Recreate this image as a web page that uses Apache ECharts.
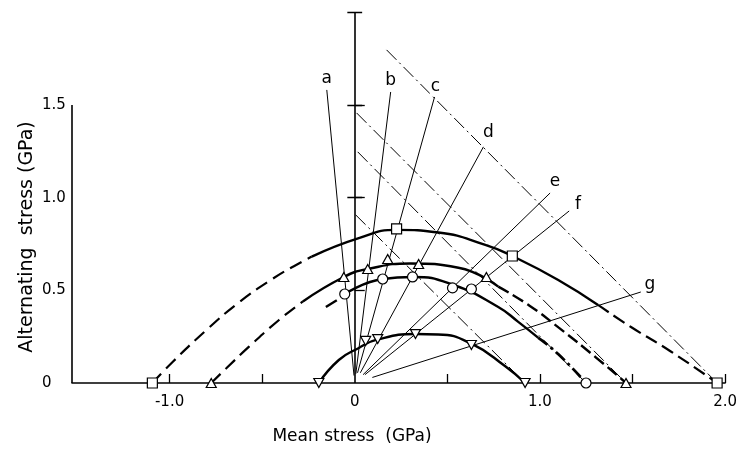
<!DOCTYPE html>
<html><head><meta charset="utf-8">
<script src="https://cdn.jsdelivr.net/npm/echarts@6/dist/echarts.min.js"></script>
<style>html,body{margin:0;padding:0;background:#fff}#c{width:740px;height:450px}</style>
</head><body><div id="c"></div>
<script>
// ---- axis ticks / labels ----
const xTicks = [-1, -0.5, 0.5, 1, 1.5, 2];
const xTickLabels = [-1, 0, 1, 2];
const yTicks = [0.5, 1, 1.5];
const yTickLabels = [0, 0.5, 1, 1.5];
const centreTicks = [1, 1.5, 2];

// ---- curve 1 (squares) ----
const c1Left = [[-1.093,0],[-0.985,0.112],[-0.802,0.285],[-0.625,0.435],[-0.447,0.56],[-0.302,0.645],[-0.232,0.682]];
const c1Mid = [[-0.232,0.682],[0.022,0.782],[0.226,0.826],[0.452,0.812],[0.705,0.745],[0.851,0.685],[1.099,0.556],[1.314,0.421]];
const c1Right = [[1.314,0.421],[1.492,0.302],[1.707,0.17],[1.957,0]];
const squares = [[-1.093,0],[0.226,0.831],[0.851,0.685],[1.957,0]];

// ---- curve 2 (triangles) ----
const c2Left = [[-0.775,0],[-0.695,0.078],[-0.571,0.196],[-0.409,0.34],[-0.28,0.44]];
const c2Mid = [[-0.28,0.44],[-0.059,0.572],[0.07,0.615],[0.3,0.645],[0.56,0.622],[0.775,0.52]];
const c2Right = [[0.775,0.52],[0.94,0.42],[1.1,0.3],[1.3,0.14],[1.465,0]];
const triangles = [[-0.775,0],[-0.059,0.572],[0.07,0.615],[0.178,0.669],[0.345,0.642],[0.711,0.572],[1.465,0]];

// ---- curve 3 (circles) ----
const c3Stub = [[-0.156,0.41],[-0.097,0.446]];
const c3Mid = [[-0.054,0.48],[0.151,0.561],[0.312,0.572],[0.53,0.53],[0.775,0.41],[0.883,0.33],[0.99,0.245]];
const c3Right = [[0.99,0.245],[1.1,0.155],[1.249,0]];
const circles = [[-0.054,0.48],[0.151,0.561],[0.312,0.572],[0.528,0.513],[0.63,0.507],[1.249,0]];

// ---- curve 4 (inverted triangles) ----
const c4 = [[-0.194,0],[-0.086,0.124],[0.022,0.189],[0.124,0.235],[0.328,0.264],[0.45,0.262],[0.63,0.212],[0.813,0.09],[0.92,0]];
const downTriangles = [[-0.194,0],[0.059,0.227],[0.124,0.237],[0.328,0.264],[0.63,0.205],[0.92,0]];

// ---- Goodman lines (dash-dot) ----
const goodStart = [[0.172,1.797],[0.01,1.457],[0.016,1.247],[0.005,0.907]];
const goodEnd = [[1.957,0],[1.465,0],[1.249,0],[0.92,0]];

// ---- leader lines and labels ----
const leaderNames = ['a','b','c','d','e','f','g'];
const leaderInner = [[-0.004,0.04],[0.006,0.05],[0.015,0.055],[0.03,0.055],[0.045,0.045],[0.055,0.045],[0.095,0.03]];
const leaderOuter = [[-0.151,1.581],[0.194,1.57],[0.431,1.543],[0.695,1.274],[1.055,1.025],[1.158,0.928],[1.545,0.491]];
const labelPos = [[-0.151,1.64],[0.194,1.63],[0.436,1.60],[0.722,1.35],[1.082,1.088],[1.206,0.963],[1.594,0.53]];

const XMIN = -1.527, XMAX = 2.0, YMAX = 2.05;
const FONT = 'DejaVu Sans';
const K = '#000';

function seg(a, b) { return { coords: [a, b] }; }

const solid = (data, w) => ({ type:'line', data, smooth:0.5, symbol:'none', lineStyle:{color:K, width:w||2.4}, z:3, silent:true });
const dashed = (data, pat, w) => ({ type:'line', data, smooth:0.5, symbol:'none', lineStyle:{color:K, width:w||2.2, type:pat}, z:3, silent:true });
const marks = (data, symbol, size, rot) => ({ type:'scatter', data, symbol, symbolSize:size, symbolRotate:rot||0,
  itemStyle:{color:'#fff', borderColor:K, borderWidth:1.2, opacity:1}, z:6, silent:true });

const chart = echarts.init(document.getElementById('c'));
chart.setOption({
  animation:false,
  backgroundColor:'#fff',
  grid:{left:72, right:12, top:3, bottom:67},
  xAxis:{type:'value', min:XMIN, max:XMAX,
    axisLine:{lineStyle:{color:K, width:1.6}},
    axisTick:{inside:true, length:9, customValues:xTicks, lineStyle:{color:K, width:1.3}},
    axisLabel:{customValues:xTickLabels, margin:12, color:'#000', fontFamily:FONT, fontSize:15,
      formatter:v => v === 0 ? '0' : v.toFixed(1)},
    splitLine:{show:false}},
  yAxis:{type:'value', min:0, max:YMAX,
    axisLine:{show:false},
    axisTick:{show:true, inside:true, length:10, customValues:yTicks, lineStyle:{color:K, width:1.3}},
    axisLabel:{customValues:yTickLabels, margin:30, align:'left', color:'#000', fontFamily:FONT, fontSize:15,
      formatter:v => v === 0 ? '0' : v.toFixed(1)},
    splitLine:{show:false}},
  graphic:[
    {type:'text', x:27, y:237, rotation:Math.PI/2, style:{text:'Alternating  stress (GPa)', fill:'#000', font:'19px ' + FONT, align:'center', verticalAlign:'middle'}},
    {type:'text', x:352, y:437, style:{text:'Mean stress  (GPa)', fill:'#000', font:'17px ' + FONT, align:'center', verticalAlign:'middle'}}
  ],
  series:[
    // left axis line and centre scale
    {type:'lines', coordinateSystem:'cartesian2d', polyline:false, silent:true, z:2,
      lineStyle:{color:K, width:1.6, opacity:1},
      data:[seg([XMIN,0],[XMIN,1.5]), seg([0,0],[0,2])]},
    {type:'lines', coordinateSystem:'cartesian2d', polyline:false, silent:true, z:2,
      lineStyle:{color:K, width:1.4, opacity:1},
      data:centreTicks.map(v => seg([-0.04,v],[0.04,v]))},
    // Goodman dash-dot lines
    {type:'lines', coordinateSystem:'cartesian2d', polyline:false, silent:true, z:2,
      lineStyle:{color:K, width:1, type:[14,4,2,4], opacity:1},
      data:goodStart.map((p,i) => seg(p, goodEnd[i]))},
    // leader lines
    {type:'lines', coordinateSystem:'cartesian2d', polyline:false, silent:true, z:2,
      lineStyle:{color:K, width:1, opacity:1},
      data:leaderInner.map((p,i) => seg(p, leaderOuter[i]))},
    // curves
    dashed(c1Left, [13,7]), solid(c1Mid), dashed(c1Right, [13,6]),
    dashed(c2Left, [13,7]), solid(c2Mid), dashed(c2Right, [12,5], 2.4),
    solid(c3Stub), solid(c3Mid), dashed(c3Right, [12,4,3,4], 2.8),
    solid(c4),
    // markers
    marks(squares, 'rect', 10),
    marks(triangles, 'triangle', [10,9]),
    marks(circles, 'circle', 10),
    marks(downTriangles, 'triangle', [10,9], 180),
    // curve labels
    {type:'scatter', symbolSize:0, silent:true, z:7, itemStyle:{opacity:1},
      data:labelPos.map((p,i) => ({name:leaderNames[i], value:p})),
      label:{show:true, position:'inside', formatter:'{b}', color:'#000', fontFamily:FONT, fontSize:17,
        backgroundColor:'#fff', padding:[0,1]}}
  ]
});
</script></body></html>
